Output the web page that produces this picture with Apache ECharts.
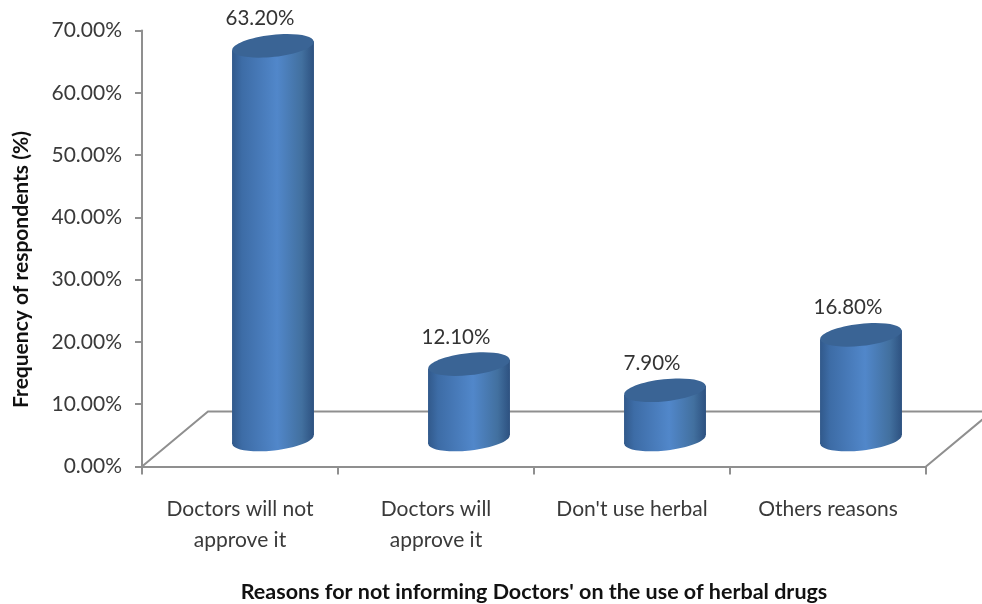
<!DOCTYPE html>
<html>
<head>
<meta charset="utf-8">
<script src="https://cdn.jsdelivr.net/npm/echarts@6/dist/echarts.min.js"></script>
<style>html,body{margin:0;padding:0;background:#fff}#c{width:982px;height:604px}</style>
</head>
<body>
<div id="c"></div>
<script>
const categories = ["Doctors will not\napprove it", "Doctors will\napprove it", "Don't use herbal", "Others reasons"];
const percentages = [63.2, 12.1, 7.9, 16.8];
const yAxisTitle = "Frequency of respondents (%)";
const xAxisTitle = "Reasons for not informing Doctors' on the use of herbal drugs";
const FONT = "Lato, 'Open Sans', sans-serif";
const GREY = "#8f8f8f";
const DEPTH_X = 66, DEPTH_Y = 55;   // 3D floor depth in pixels

const pct = v => v.toFixed(2) + "%";

function bodyGradient() {
  return { type: "linear", x: 0, y: 0, x2: 1, y2: 0, colorStops: [
    { offset: 0, color: "#31598b" }, { offset: 0.12, color: "#3d6ca6" },
    { offset: 0.55, color: "#5187ca" }, { offset: 0.85, color: "#42709f" },
    { offset: 1, color: "#2d5180" } ] };
}

function renderFloor(params, api) {
  const cs = params.coordSys;
  const x0 = cs.x, x1 = cs.x + cs.width, y0 = cs.y + cs.height;
  const line = { stroke: GREY, lineWidth: 2, fill: null };
  return { type: "polyline", silent: true, shape: { points: [
    [x0, y0], [x0 + DEPTH_X, y0 - DEPTH_Y], [x1 + DEPTH_X, y0 - DEPTH_Y], [x1, y0]
  ] }, style: line };
}

function renderCylinder(params, api) {
  const cat = api.value(0), val = api.value(1);
  const top = api.coord([cat, val]), base = api.coord([cat, 0]);
  const band = api.size([1, 0])[0];
  const cx = top[0] + DEPTH_X / 2, w = band * 0.418, rx = w / 2, ry = 11;
  const shiftY = -DEPTH_Y / 2 + 0.5;
  const yT = top[1] + shiftY, yB = base[1] + shiftY, tilt = 4.5;
  const rot = Math.atan2(2 * tilt, w);
  const ell = (cy, fill) => ({
    type: "ellipse", silent: true, shape: { cx: cx, cy: cy, rx: rx, ry: ry },
    rotation: rot, originX: cx, originY: cy, style: { fill: fill }
  });
  return { type: "group", children: [
    ell(yB, bodyGradient()),
    { type: "polygon", silent: true, shape: { points: [
        [cx - rx, yT + tilt], [cx + rx, yT - tilt], [cx + rx, yB - tilt], [cx - rx, yB + tilt]
      ] }, style: { fill: bodyGradient() } },
    ell(yT, "#3a6495"),
    { type: "text", silent: true, x: cx - 13, y: yT - 27, style: {
        text: pct(val), font: "20.5px " + FONT, fill: "#333",
        textAlign: "center", textVerticalAlign: "middle" } }
  ] };
}

const chart = echarts.init(document.getElementById("c"), null, { renderer: "canvas" });
chart.setOption({
  animation: false,
  backgroundColor: "#fff",
  grid: { left: 142, right: 56, top: 30.5, bottom: 137.5, outerBoundsMode: "none" },
  xAxis: {
    type: "category", data: categories,
    axisLine: { lineStyle: { color: GREY, width: 2 } },
    axisTick: { show: true, interval: 0, length: 8, lineStyle: { color: GREY, width: 2 } },
    axisLabel: { color: "#3a3a3a", fontFamily: FONT, fontSize: 21, lineHeight: 31, margin: 27, interval: 0, hideOverlap: false },
    name: xAxisTitle, nameLocation: "middle", nameGap: 115, nameMoveOverlap: false,
    nameTextStyle: { color: "#111", fontFamily: FONT, fontSize: 21.5, fontWeight: "bold" }
  },
  yAxis: {
    type: "value", min: 0, max: 70, interval: 10,
    splitLine: { show: false },
    axisLine: { show: true, lineStyle: { color: GREY, width: 2 } },
    axisTick: { show: true, length: 7, lineStyle: { color: GREY, width: 2 } },
    axisLabel: { color: "#3a3a3a", fontFamily: FONT, fontSize: 21, margin: 20, formatter: v => pct(v) },
    name: yAxisTitle, nameLocation: "middle", nameGap: 110, nameRotate: 90, nameMoveOverlap: false,
    nameTextStyle: { color: "#111", fontFamily: FONT, fontSize: 21, fontWeight: "bold", padding: [0, 42, 0, 0] }
  },
  series: [
    { type: "custom", name: "floor", z: 1, silent: true, data: [0], renderItem: renderFloor },
    { type: "custom", name: "Frequency of respondents", z: 3, silent: true,
      encode: { x: 0, y: 1 }, clip: false,
      data: percentages.map((v, i) => [i, v]), renderItem: renderCylinder }
  ]
});
</script>
</body>
</html>
